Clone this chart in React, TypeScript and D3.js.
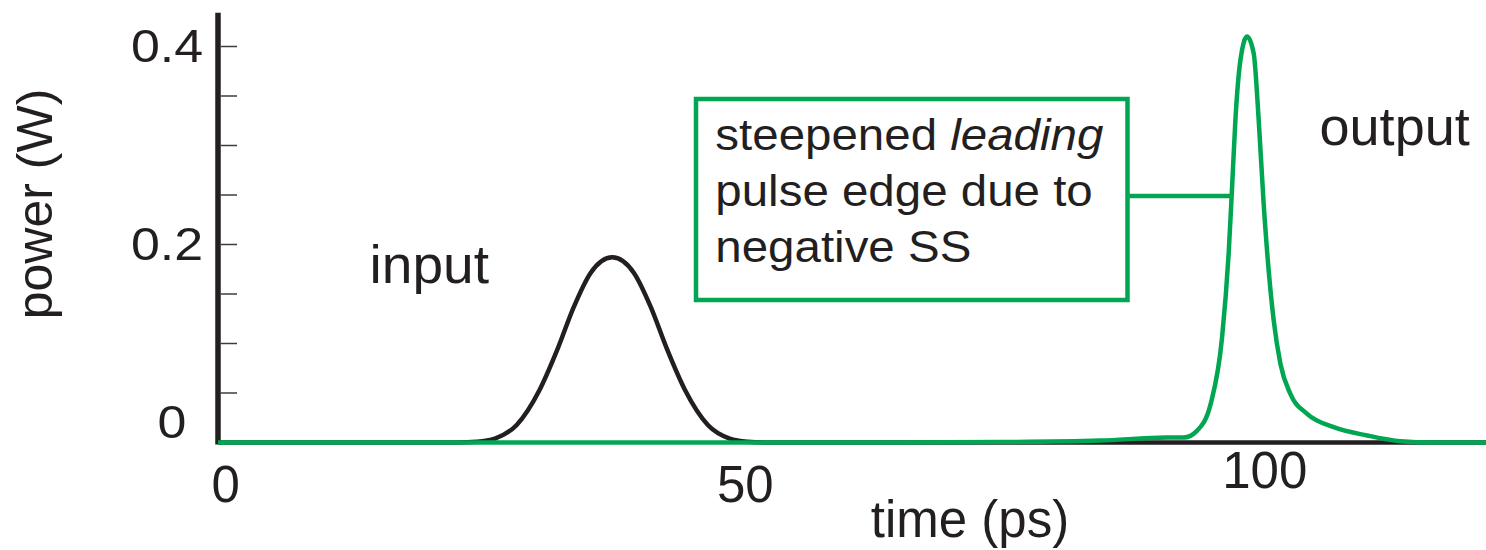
import React from 'react';
import * as d3 from 'd3';

// ---- data ----
const inputTime = [-0.75, 22.2, 24.2, 25.9, 28.0, 30.2, 31.9, 33.5, 35.1, 37.2, 39.3, 40.9, 42.5, 44.2, 46.4, 48.5, 50.2, 52.2, 121.3];
const inputPower = [0, 0, 0.0008, 0.004, 0.0177, 0.053, 0.0935, 0.137, 0.171, 0.187, 0.171, 0.137, 0.0935, 0.053, 0.0177, 0.004, 0.0008, 0, 0];

const outputTime = [-0.75, 60, 74.6, 84.2, 90.6, 92.2, 93.5, 94.8, 95.9, 96.53, 96.86, 97.18, 97.66, 98.3, 98.94, 99.42, 99.9, 100.38, 100.87, 101.51, 102.47, 104.08, 106.65, 109.86, 113.07, 116.2, 121.3];
const outputPower = [0, 0, 0.0005, 0.002, 0.005, 0.005, 0.012, 0.039, 0.1065, 0.191, 0.258, 0.326, 0.386, 0.41, 0.393, 0.326, 0.241, 0.174, 0.123, 0.0796, 0.049, 0.029, 0.0155, 0.0071, 0.0013, 0, 0];

const xTickValues = [0, 50, 100];
const xTickLabels = ['0', '50', '100'];
const yTickValues = [0, 0.2, 0.4];
const yTickLabels = ['0', '0.2', '0.4'];
const yMinorTicks = [0.05, 0.1, 0.15, 0.2, 0.25, 0.3, 0.35, 0.4];

const xDomain = [-0.75, 121.3];
const yDomain = [0, 0.4];
const yAxisTop = 0.434;

const annotationLines = ['steepened ', 'pulse edge due to', 'negative SS'];
const annotationItalic = 'leading';
const annotationAnchor = { t: 96.78, p: 0.249 };

// ---- styles ----
const GREEN = '#00a651';
const INK = '#231f20';
const FONT = '"Liberation Sans", Arial, Helvetica, sans-serif';

export default function App() {
  const W = 1486;
  const H = 550;
  const x = d3.scaleLinear().domain(xDomain).range([218, 1486]);
  const y = d3.scaleLinear().domain(yDomain).range([442.5, 46.5]);

  const inputData = inputTime.map((t, i) => [t, inputPower[i]] as [number, number]);
  const outputData = outputTime.map((t, i) => [t, outputPower[i]] as [number, number]);

  const line = d3
    .line<[number, number]>()
    .x((d) => x(d[0]))
    .y((d) => y(d[1]))
    .curve(d3.curveMonotoneX);

  const axisX = x(xDomain[0]);
  const boxX = 696;
  const boxY = 99;
  const boxW = 431.5;
  const boxH = 201;

  return (
    <svg
      width={W}
      height={H}
      viewBox={`0 0 ${W} ${H}`}
      style={{ position: 'absolute', left: 0, top: 0, background: '#fff', display: 'block' }}
      fontFamily={FONT}
    >
      <rect x={0} y={0} width={W} height={H} fill="#fff" />

      {/* y axis */}
      <line x1={axisX} x2={axisX} y1={y(yAxisTop)} y2={y(0) + 2} stroke={INK} strokeWidth={5.5} />
      {yMinorTicks.map((v) => (
        <line key={v} x1={axisX + 2.5} x2={237} y1={y(v)} y2={y(v)} stroke="#3c3c3c" strokeWidth={1.5} />
      ))}
      {yTickValues.map((v, i) => (
        <text
          key={v}
          transform={`translate(${v === 0 ? 172 : 167}, ${Math.min(y(v) + 15, 438)}) scale(1.13, 1)`}
          textAnchor="middle"
          fontSize={46}
          fill={INK}
        >
          {yTickLabels[i]}
        </text>
      ))}
      <text
        transform={`translate(52, 204) rotate(-90)`}
        textAnchor="middle"
        fontSize={50}
        fill={INK}
      >
        power (W)
      </text>

      {/* x tick labels */}
      {xTickValues.map((v, i) => (
        <text key={v} x={x(v)} y={v === 100 ? 488 : 502} textAnchor="middle" fontSize={51} fill={INK}>
          {xTickLabels[i]}
        </text>
      ))}
      <text x={970} y={537} textAnchor="middle" fontSize={51} fill={INK}>
        time (ps)
      </text>

      {/* curves */}
      <path d={line(inputData) || ''} fill="none" stroke={INK} strokeWidth={4.5} strokeLinejoin="round" />
      <path d={line(outputData) || ''} fill="none" stroke={GREEN} strokeWidth={4.5} strokeLinejoin="round" />

      {/* labels */}
      <text transform="translate(369.5, 283) scale(1.04, 1)" fontSize={53} fill={INK}>
        input
      </text>
      <text transform="translate(1319.5, 145) scale(1.02, 1)" fontSize={53} fill={INK}>
        output
      </text>

      {/* annotation */}
      <rect x={boxX} y={boxY} width={boxW} height={boxH} fill="#fff" stroke={GREEN} strokeWidth={4.5} />
      <line
        x1={boxX + boxW}
        x2={x(annotationAnchor.t)}
        y1={y(annotationAnchor.p)}
        y2={y(annotationAnchor.p)}
        stroke={GREEN}
        strokeWidth={4.5}
      />
      <g transform="translate(715.3, 0)">
        {annotationLines.map((s, i) => (
          <text key={i} transform={`translate(0, ${150 + i * 56}) scale(1.055, 1)`} fontSize={45} fill={INK}>
            {s}
            {i === 0 ? <tspan fontStyle="italic">{annotationItalic}</tspan> : null}
          </text>
        ))}
      </g>
    </svg>
  );
}
